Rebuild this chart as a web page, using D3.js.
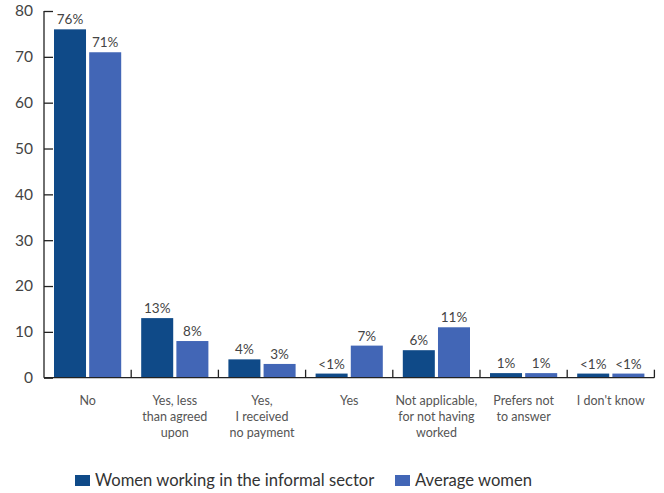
<!DOCTYPE html>
<html>
<head>
<meta charset="utf-8">
<script src="https://cdn.jsdelivr.net/npm/d3@7"></script>
<style>
  html, body { margin: 0; padding: 0; background: #fff; }
  svg { display: block; font-family: Lato, "Open Sans", sans-serif; }
</style>
</head>
<body>
<svg id="chart" width="664" height="493"></svg>
<script>
// Categories (multi-line labels) and series
const categories = [
  ["No"],
  ["Yes, less", "than agreed", "upon"],
  ["Yes,", "I received", "no payment"],
  ["Yes"],
  ["Not applicable,", "for not having", "worked"],
  ["Prefers not", "to answer"],
  ["I don't know"]
];
const seriesNames = ["Women working in the informal sector", "Average women"];
const informalValues = [76, 13, 4, 0.9, 6, 1, 0.9];
const averageValues  = [71, 8, 3, 7, 11, 1, 0.9];
const informalLabels = ["76%", "13%", "4%", "<1%", "6%", "1%", "<1%"];
const averageLabels  = ["71%", "8%", "3%", "7%", "11%", "1%", "<1%"];
const yTicks = [0, 10, 20, 30, 40, 50, 60, 70, 80];
const colors = ["#0f4a88", "#4266b6"];

const svg = d3.select("#chart");
const plotLeft = 44, plotRight = 654.4, plotTop = 11, plotBottom = 377.7;

const x0 = d3.scaleBand().domain(d3.range(categories.length)).range([plotLeft, plotRight]).padding(0);
const x1 = d3.scaleBand().domain([0, 1]).range([10, x0.bandwidth() - 10]).paddingInner(0.09);
const y = d3.scaleLinear().domain([0, 80]).range([plotBottom, plotTop]);

const values = [informalValues, averageValues];
const labels = [informalLabels, averageLabels];

// Bars
const groups = svg.append("g").selectAll("g")
  .data(categories.map((c, i) => i))
  .join("g")
  .attr("transform", i => `translate(${x0(i)},0)`);

groups.selectAll("rect")
  .data(i => [0, 1].map(s => ({ s, v: values[s][i], l: labels[s][i] })))
  .join("rect")
  .attr("x", d => x1(d.s))
  .attr("width", x1.bandwidth())
  .attr("y", d => y(d.v))
  .attr("height", d => y(0) - y(d.v))
  .attr("fill", d => colors[d.s]);

// Value labels
groups.selectAll("text.val")
  .data(i => [0, 1].map(s => ({ s, v: values[s][i], l: labels[s][i] })))
  .join("text")
  .attr("class", "val")
  .attr("x", d => x1(d.s) + x1.bandwidth() / 2)
  .attr("y", d => y(d.v) - 5)
  .attr("text-anchor", "middle")
  .attr("font-size", 13.5)
  .attr("fill", "#444")
  .text(d => d.l);

// Y axis
const yAxis = svg.append("g")
  .attr("transform", `translate(${plotLeft},0)`)
  .call(d3.axisLeft(y).tickValues(yTicks).tickSize(-9).tickPadding(11));
yAxis.select(".domain").attr("stroke", "#222").attr("stroke-width", 1.3).attr("d", `M0,${plotTop}V${plotBottom}`);
yAxis.selectAll(".tick line").attr("stroke", "#222").attr("stroke-width", 1.3);
yAxis.selectAll(".tick text")
  .attr("font-size", 15.5)
  .attr("fill", "#444")
  .attr("font-family", "Lato, sans-serif");

// X axis with category separators
const xAxisG = svg.append("g").attr("transform", `translate(0,${plotBottom})`);
xAxisG.append("line")
  .attr("x1", plotLeft).attr("x2", plotRight)
  .attr("stroke", "#222").attr("stroke-width", 1.3);
xAxisG.selectAll("line.sep")
  .data(d3.range(1, categories.length + 1))
  .join("line")
  .attr("class", "sep")
  .attr("x1", i => x0(0) + i * x0.step())
  .attr("x2", i => x0(0) + i * x0.step())
  .attr("y1", 0).attr("y2", -8)
  .attr("stroke", "#222").attr("stroke-width", 1.3);

// Category labels
const catText = xAxisG.selectAll("text.cat")
  .data(categories)
  .join("text")
  .attr("class", "cat")
  .attr("text-anchor", "middle")
  .attr("font-size", 12.5)
  .attr("fill", "#555")
  .attr("transform", (d, i) => `translate(${x0(i) + x0.bandwidth() / 2},27)`);
catText.selectAll("tspan")
  .data(d => d)
  .join("tspan")
  .attr("x", 0)
  .attr("dy", (d, j) => j === 0 ? 0 : 16)
  .text(d => d);

// Legend
const legend = svg.append("g").attr("transform", "translate(75,486)");
const legendX = [0, 320];
const items = legend.selectAll("g")
  .data(seriesNames)
  .join("g")
  .attr("transform", (d, i) => `translate(${legendX[i]},0)`);
items.append("rect")
  .attr("x", 0).attr("y", -11)
  .attr("width", 15).attr("height", 11)
  .attr("fill", (d, i) => colors[i]);
items.append("text")
  .attr("x", 20).attr("y", 0)
  .attr("font-size", 16.6)
  .attr("fill", "#333")
  .text(d => d);
</script>
</body>
</html>
